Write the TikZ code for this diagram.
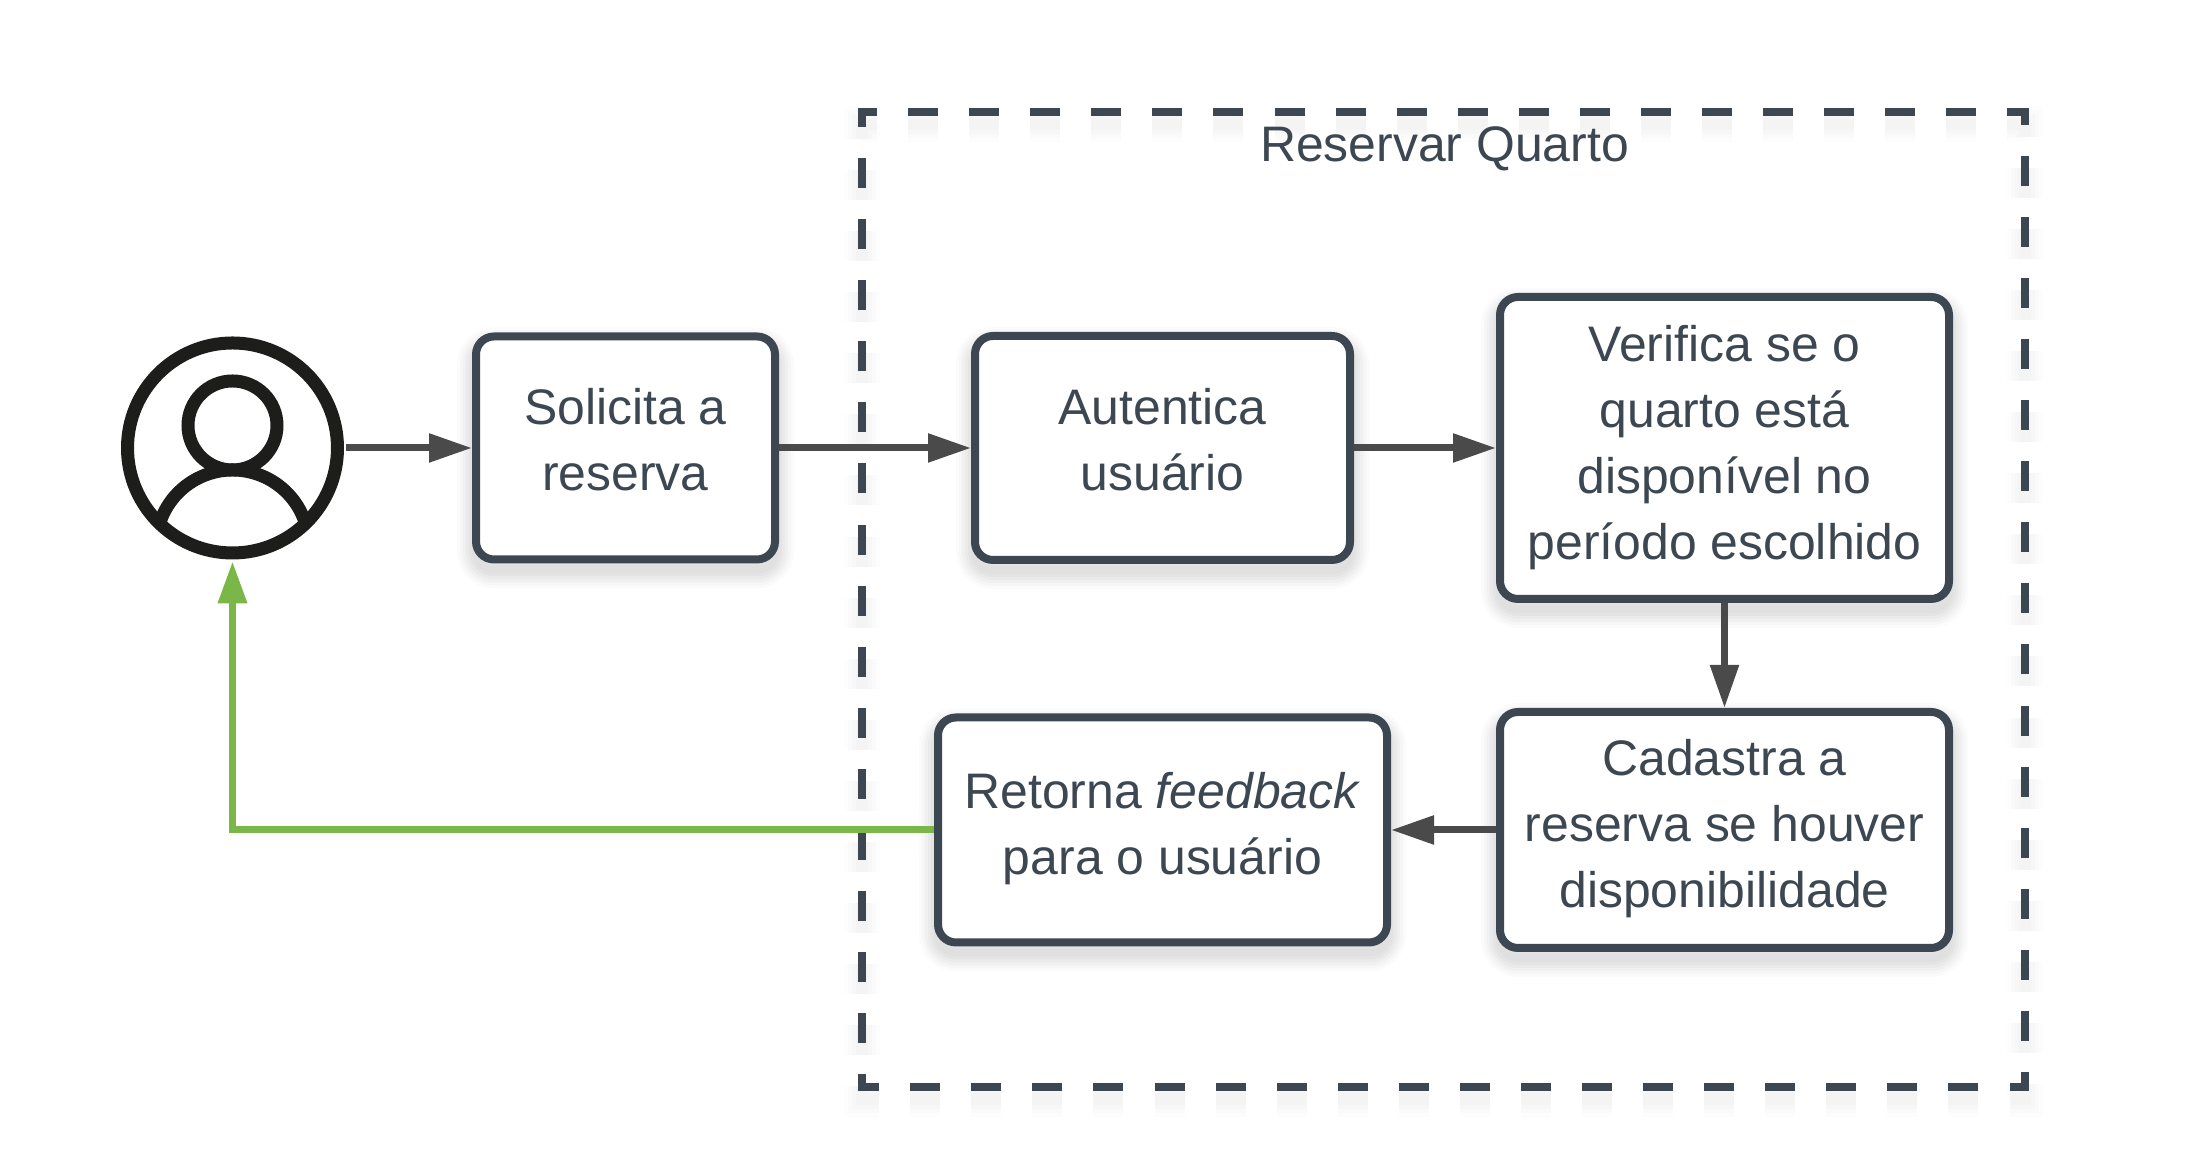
\documentclass[tikz,border=0pt]{standalone}
\usepackage{fontspec}
\setmainfont{Liberation Sans}
\usepackage{xcolor}
\usepackage{tikz}
\usetikzlibrary{arrows.meta,positioning}

\definecolor{slate}{HTML}{3D4752}
\definecolor{flowgrey}{HTML}{4A4A4A}
\definecolor{leaf}{HTML}{7AB648}
\definecolor{inkblack}{HTML}{1D1D1B}

\begin{document}
\begin{tikzpicture}[
    softpass/.style 2 args={preaction={draw=black, draw opacity=#1, line width=#2, transform canvas={yshift=-.1cm}}},
    soft/.style={softpass={.015}{.38cm}, softpass={.02}{.32cm}, softpass={.025}{.26cm},
        softpass={.025}{.20cm}, softpass={.025}{.14cm}, softpass={.02}{.08cm}},
    dashpass/.style 2 args={preaction={draw=black, draw opacity=#1, line width=#2, transform canvas={yshift=-.12cm},
        dash pattern=on .30cm off .3107cm, dash phase=.30cm}},
    box/.style={rectangle, draw=slate, line width=.08cm, fill=white, rounded corners=.18cm, soft,
        align=center, inner sep=0pt, text=slate, font=\fontsize{14.2}{18.8}\selectfont},
    frame/.style={draw=slate, line width=.08cm, dash pattern=on .30cm off .3107cm, dash phase=.30cm,
        dashpass={.008}{.36cm}, dashpass={.01}{.28cm}, dashpass={.012}{.20cm}, dashpass={.012}{.12cm}},
    usericon/.style={draw=inkblack, line width=.13cm},
    flow/.style={draw=flowgrey, line width=.07cm, -{Triangle[length=.43cm,width=.275cm]}},
    feedbackflow/.style={draw=leaf, line width=.07cm, -{Triangle[length=.42cm,width=.28cm]}}
]
\useasboundingbox (0,0) rectangle (21.9,11.7);

% Dashed frame
\draw[frame] (8.77,10.58) -- (20.245,10.58) -- (20.245,.83) -- (8.62,.83) -- (8.62,10.58) -- cycle;
\node[anchor=base, text=slate, font=\fontsize{14.2}{18.8}\selectfont] (title) at (14.445,10.083) {Reservar Quarto};

% Top row
\node[box, minimum width=2.99cm, minimum height=2.23cm, text depth=.17cm] (solicita) at (6.255,7.22) {Solicita a\\reserva};
\node[box, minimum width=3.75cm, minimum height=2.24cm, text depth=.17cm, right=1.92cm of solicita] (autentica) {Autentica\\usuário};
\node[box, minimum width=4.49cm, minimum height=3.02cm, right=1.42cm of autentica] (verifica) {Verifica se o\\quarto está\\disponível no\\período escolhido};

% Bottom row
\node[box, minimum width=4.49cm, minimum height=2.36cm, text depth=.135cm, below=1.05cm of verifica] (cadastra) {Cadastra a\\reserva se houver\\disponibilidade};
\node[box, minimum width=4.49cm, minimum height=2.25cm, text depth=.13cm, left=1.05cm of cadastra] (retorna) {Retorna \textit{feedback}\\para o usuário};

% User icon
\node[circle, usericon, minimum size=2.10cm, inner sep=0pt, outer sep=.085cm, left=1.26cm of solicita] (user) {};
\node[circle, usericon, minimum size=.89cm, inner sep=0pt, yshift=.225cm] (head) at (user.center) {};
\draw[usericon] (user.center) ++(.73,-.755) arc[start angle=17.5, end angle=162.5, radius=.765cm];

% Arrows
\draw[flow] (user) -- (solicita);
\draw[flow] (solicita) -- (autentica);
\draw[flow] (autentica) -- (verifica);
\draw[flow] (verifica) -- (cadastra);
\draw[flow] (cadastra) -- (retorna);
\draw[feedbackflow] (retorna) -| (user);

\end{tikzpicture}
\end{document}
